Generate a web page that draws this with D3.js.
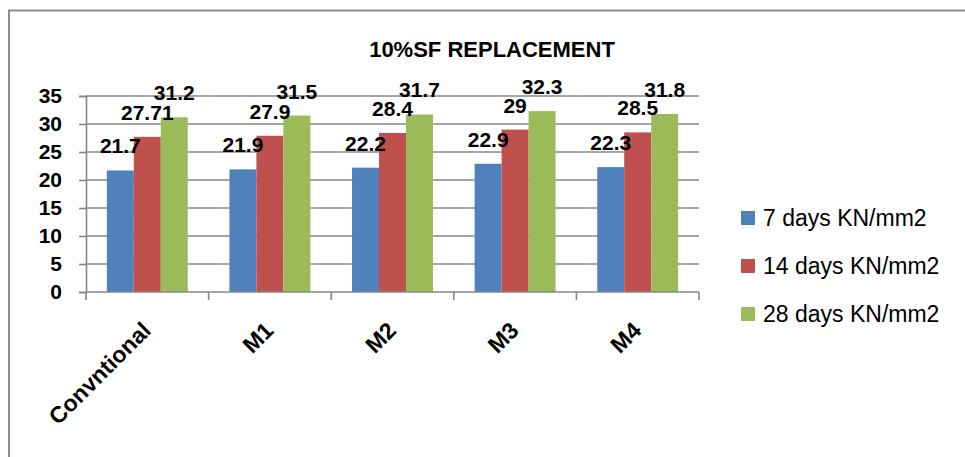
<!DOCTYPE html>
<html>
<head>
<meta charset="utf-8">
<script src="https://cdn.jsdelivr.net/npm/d3@7/dist/d3.min.js"></script>
<style>
  html, body { margin: 0; padding: 0; background: #fff; }
  svg { display: block; }
  text { font-family: "Liberation Sans", Arial, sans-serif; fill: #000; }
</style>
</head>
<body>
<svg id="chart" width="965" height="457"></svg>
<script>
const categories = ["Convntional", "M1", "M2", "M3", "M4"];
const seriesNames = ["7 days KN/mm2", "14 days KN/mm2", "28 days KN/mm2"];
const days7 = [21.7, 21.9, 22.2, 22.9, 22.3];
const days14 = [27.71, 27.9, 28.4, 29, 28.5];
const days28 = [31.2, 31.5, 31.7, 32.3, 31.8];
const yTicks = [0, 5, 10, 15, 20, 25, 30, 35];
const colors = ["#4F81BD", "#C0504D", "#9BBB59"];
const title = "10%SF REPLACEMENT";

const seriesValues = [days7, days14, days28];

const svg = d3.select("#chart");
const W = 965, H = 457;
svg.append("rect").attr("width", W).attr("height", H).attr("fill", "#fff");

// outer chart border (only top and left visible in frame)
svg.append("rect")
  .attr("x", 9).attr("y", 10.5)
  .attr("width", 1000).attr("height", 500)
  .attr("fill", "none").attr("stroke", "#8e8e8e").attr("stroke-width", 2);

const plot = { left: 86, right: 699, top: 96, bottom: 292 };

const x0 = d3.scaleBand()
  .domain(categories)
  .range([plot.left, plot.right])
  .paddingInner(0.34)
  .paddingOuter(0.17);

const x1 = d3.scaleBand()
  .domain(d3.range(seriesNames.length))
  .range([0, x0.bandwidth()]);

const y = d3.scaleLinear().domain([0, 35]).range([plot.bottom, plot.top]);

// gridlines
svg.append("g")
  .selectAll("line")
  .data(yTicks.filter(d => d > 0))
  .join("line")
  .attr("x1", plot.left).attr("x2", plot.right)
  .attr("y1", d => y(d)).attr("y2", d => y(d))
  .attr("stroke", "#878787").attr("stroke-width", 1.6);

// y axis
const yAxis = svg.append("g")
  .attr("transform", `translate(${plot.left},0)`)
  .call(d3.axisLeft(y).tickValues(yTicks).tickSize(7).tickPadding(17));
yAxis.select(".domain").attr("stroke", "#878787").attr("stroke-width", 1.6);
yAxis.selectAll(".tick line").attr("stroke", "#878787").attr("stroke-width", 1.6);
yAxis.selectAll(".tick text")
  .style("font-family", "'Liberation Sans', Arial, sans-serif")
  .style("font-size", "21px").style("font-weight", "bold").attr("fill", "#000");

// bars
const groups = svg.append("g")
  .selectAll("g")
  .data(categories)
  .join("g")
  .attr("transform", d => `translate(${x0(d)},0)`);

groups.selectAll("rect")
  .data((c, i) => seriesValues.map((s, k) => ({ k, v: s[i] })))
  .join("rect")
  .attr("x", d => x1(d.k))
  .attr("width", x1.bandwidth())
  .attr("y", d => y(d.v))
  .attr("height", d => y(0) - y(d.v))
  .attr("fill", d => colors[d.k]);

// x axis
const xAxisLine = svg.append("g");
xAxisLine.append("line")
  .attr("x1", plot.left).attr("x2", plot.right)
  .attr("y1", plot.bottom).attr("y2", plot.bottom)
  .attr("stroke", "#878787").attr("stroke-width", 1.6);
const boundaries = categories.map(c => x0(c) - x0.step() * x0.paddingInner() / 2)
  .concat([plot.right]);
xAxisLine.selectAll("line.tk")
  .data(boundaries)
  .join("line").attr("class", "tk")
  .attr("x1", d => d).attr("x2", d => d)
  .attr("y1", plot.bottom).attr("y2", plot.bottom + 8)
  .attr("stroke", "#878787").attr("stroke-width", 1.6);

// category labels, rotated
svg.append("g")
  .selectAll("text")
  .data(categories)
  .join("text")
  .attr("transform", d => `translate(${x0(d) + x0.bandwidth() / 2 + 5},${plot.bottom + 40}) rotate(-45)`)
  .attr("text-anchor", "end")
  .style("font-size", "23px").style("font-weight", "bold")
  .text(d => d);

// data labels
groups.selectAll("text")
  .data((c, i) => seriesValues.map((s, k) => ({ k, v: s[i] })))
  .join("text")
  .attr("x", d => x1(d.k) + x1.bandwidth() / 2)
  .attr("y", d => y(d.v) - 17)
  .attr("text-anchor", "middle")
  .style("font-size", "21px").style("font-weight", "bold")
  .text(d => d.v);

// title
svg.append("text")
  .attr("x", 492).attr("y", 57)
  .attr("text-anchor", "middle")
  .style("font-size", "22px").style("font-weight", "bold")
  .text(title);

// legend
const legend = svg.append("g")
  .selectAll("g")
  .data(seriesNames)
  .join("g")
  .attr("transform", (d, i) => `translate(741,${218 + i * 48})`);
legend.append("rect")
  .attr("x", 0).attr("y", -7).attr("width", 14).attr("height", 14)
  .attr("fill", (d, i) => colors[i]);
legend.append("text")
  .attr("x", 22).attr("y", 8)
  .style("font-size", "23px")
  .text(d => d);
</script>
</body>
</html>
